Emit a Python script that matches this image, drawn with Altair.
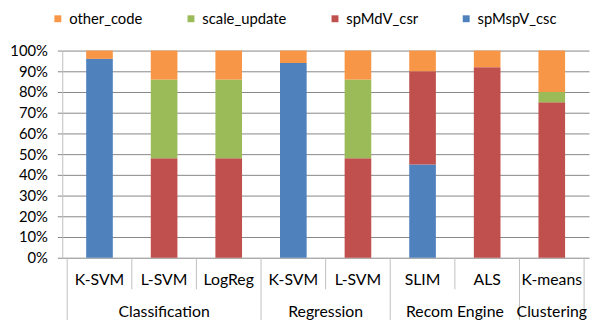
import altair as alt
import pandas as pd

tasks = ["K-SVM", "L-SVM", "LogReg", "K-SVM", "L-SVM", "SLIM", "ALS", "K-means"]
groups = ["Classification", "Regression", "Recom Engine", "Clustering"]
group_sizes = [3, 2, 2, 1]
series = ["other_code", "scale_update", "spMdV_csr", "spMspV_csc"]
colors = ["#F79646", "#9BBB59", "#C0504D", "#4F81BD"]
spMspV_csc = [96, 0, 0, 94, 0, 45, 0, 0]
spMdV_csr = [0, 48, 48, 0, 48, 45, 92, 75]
scale_update = [0, 38, 38, 0, 38, 0, 0, 5]
other_code = [4, 14, 14, 6, 14, 10, 8, 20]
y_ticks = [i / 10 for i in range(11)]

FONT = "Lato"
FS = 15
FS_X = 16
W, H = 534, 210

vals = {"spMspV_csc": spMspV_csc, "spMdV_csr": spMdV_csr,
        "scale_update": scale_update, "other_code": other_code}
stack_order = ["spMspV_csc", "spMdV_csr", "scale_update", "other_code"]
rows = []
for i, t in enumerate(tasks):
    for k, s in enumerate(stack_order):
        rows.append({"pos": i + 0.5, "task": t, "series": s,
                     "share": vals[s][i] / 100.0, "rank": k})
df = pd.DataFrame(rows)

sub_df = pd.DataFrame({"pos": [i + 0.5 for i in range(len(tasks))], "task": tasks})
starts = []
acc = 0
for g in group_sizes:
    starts.append(acc)
    acc += g
grp_df = pd.DataFrame({"pos": [s + g / 2 for s, g in zip(starts, group_sizes)],
                       "group": groups})
long_b = starts + [acc]
short_b = [b for b in range(acc + 1) if b not in long_b]
long_df = pd.DataFrame({"b": long_b})
short_df = pd.DataFrame({"b": short_b})

xscale = alt.Scale(domain=[0, len(tasks)], nice=False, zero=False)

bars = alt.Chart(df).mark_bar(size=27).encode(
    x=alt.X("pos:Q", scale=xscale, axis=None),
    y=alt.Y("share:Q", stack="zero", scale=alt.Scale(domain=[0, 1], nice=False),
            axis=alt.Axis(values=y_ticks, format=".0%", title=None,
                          grid=True, gridColor="#868686", gridWidth=1,
                          tickColor="#868686", tickSize=5,
                          domainColor="#BFBFBF", labelFontSize=FS,
                          labelFont=FONT, labelColor="#000000",
                          labelPadding=10)),
    color=alt.Color("series:N", scale=alt.Scale(domain=series, range=colors),
                    legend=alt.Legend(title=None, orient="none", direction="horizontal",
                                      legendX=-12, legendY=-40,
                                      symbolType="square", symbolSize=49,
                                      symbolStrokeWidth=0, labelFontSize=FS,
                                      labelFont=FONT, labelColor="#000000",
                                      columnPadding=41, labelOffset=4)),
    order=alt.Order("rank:Q", sort="ascending"),
)

sub_text = alt.Chart(sub_df).mark_text(font=FONT, fontSize=FS_X, baseline="middle",
                                       color="#000000").encode(
    x=alt.X("pos:Q", scale=xscale, axis=None), y=alt.value(H + 23), text="task:N")

grp_text = alt.Chart(grp_df).mark_text(font=FONT, fontSize=FS_X, baseline="middle",
                                       color="#000000").encode(
    x=alt.X("pos:Q", scale=xscale, axis=None), y=alt.value(H + 55), text="group:N")

short_rules = alt.Chart(short_df).mark_rule(color="#BFBFBF").encode(
    x=alt.X("b:Q", scale=xscale, axis=None), y=alt.value(H), y2=alt.value(H + 32))

long_rules = alt.Chart(long_df).mark_rule(color="#BFBFBF").encode(
    x=alt.X("b:Q", scale=xscale, axis=None), y=alt.value(H), y2=alt.value(H + 63))

chart = alt.layer(short_rules, long_rules, bars, sub_text, grp_text).properties(
    width=W, height=H,
    padding={"left": 55, "top": 41, "right": 1, "bottom": 63},
    autosize=alt.AutoSizeParams(type="none"),
).configure_view(stroke=None)

chart.save("out.html", embed_options={"renderer": "svg", "actions": False})
